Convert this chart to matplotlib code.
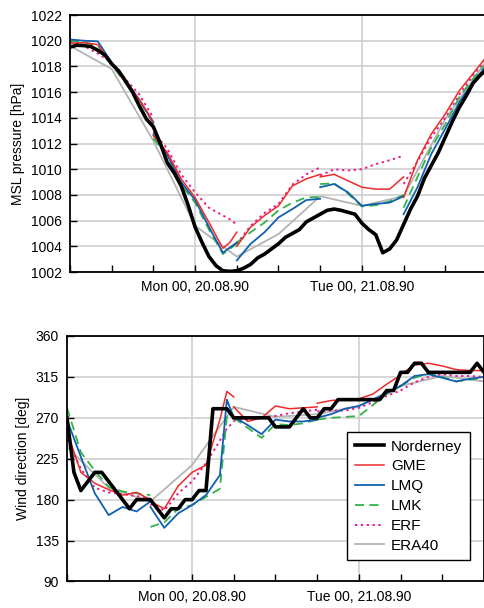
import numpy as np
import matplotlib
matplotlib.use("Agg")
import matplotlib.pyplot as plt
from matplotlib.ticker import MultipleLocator

plt.rcParams['font.family'] = ['Liberation Sans', 'DejaVu Sans']
plt.rcParams['font.size'] = 10

# hours relative to Mon 00, 20.08.90
t_obs = np.arange(-18, 43)
t_era = np.arange(-18, 43, 6)
nan = np.nan
# forecast runs restart at Sun 18, Mon 06, Mon 18, Tue 06
t_mod = [-18, -16, -14, -12, -10, -8, -6, nan,
         -6, -4, -2, 0, 2, 4, 5, 6, nan,
         6, 8, 10, 12, 14, 16, 18, nan,
         18, 20, 22, 24, 26, 28, 30, nan,
         30, 32, 34, 36, 38, 40, 42]

# ---- MSL pressure [hPa]
obs_p = [1019.5, 1019.65, 1019.62, 1019.55, 1019.25, 1018.9, 1018.2, 1017.65, 1016.85, 1016.0,
         1014.9, 1013.9, 1013.3, 1012.0, 1010.5, 1009.7, 1008.7, 1007.2, 1005.5, 1004.3,
         1003.2, 1002.5, 1002.1, 1002.05, 1002.1, 1002.3, 1002.6, 1003.1, 1003.4, 1003.8,
         1004.2, 1004.7, 1005.0, 1005.3, 1005.9, 1006.2, 1006.5, 1006.8, 1006.9, 1006.8,
         1006.65, 1006.5, 1005.8, 1005.3, 1004.9, 1003.5, 1003.8, 1004.5, 1005.7, 1006.9,
         1007.9, 1009.3, 1010.3, 1011.3, 1012.5, 1013.7, 1014.8, 1015.7, 1016.7, 1017.3, 1017.8]
gme_p = [1019.8, 1019.85, 1019.7, 1018.2, 1016.8, 1015.4, 1013.7, nan,
         1012.6, 1011.3, 1009.25, 1007.8, 1005.85, 1003.85, 1004.3, 1005.1, nan,
         1004.0, 1005.5, 1006.4, 1007.15, 1008.7, 1009.25, 1009.6, nan,
         1009.4, 1009.6, 1009.1, 1008.6, 1008.45, 1008.45, 1009.4, nan,
         1007.8, 1010.7, 1012.75, 1014.3, 1016.1, 1017.45, 1018.8]
lmq_p = [1020.1, 1020.0, 1019.95, 1018.3, 1016.9, 1015.4, 1013.6, nan,
         1012.7, 1011.1, 1009.0, 1007.6, 1005.5, 1003.5, 1003.9, 1004.3, nan,
         1002.9, 1004.2, 1005.1, 1006.25, 1006.9, 1007.6, 1007.7, nan,
         1008.6, 1008.85, 1008.2, 1007.15, 1007.3, 1007.4, 1007.9, nan,
         1006.5, 1008.6, 1011.2, 1013.15, 1015.2, 1016.8, 1018.1]
lmk_p = [1020.0, 1019.9, 1019.6, 1018.1, 1016.7, 1015.3, 1013.6, nan,
         1012.4, 1011.0, 1008.8, 1007.4, 1005.3, 1003.4, 1003.8, 1004.2, nan,
         1004.3, 1005.1, 1005.85, 1006.8, 1007.4, 1007.8, 1007.85, nan,
         1008.85, 1008.9, 1008.1, 1007.1, 1007.2, 1007.5, 1008.0, nan,
         1007.0, 1009.4, 1011.7, 1013.5, 1015.6, 1017.05, 1018.3]
erf_p = [1019.9, 1019.6, 1019.0, 1018.3, 1017.0, 1015.8, 1014.0, nan,
         1012.9, 1011.6, 1009.6, 1008.2, 1007.0, 1006.4, 1006.1, 1005.7, nan,
         1004.2, 1005.6, 1006.6, 1007.3, 1008.8, 1009.6, 1010.15, nan,
         1009.5, 1010.0, 1009.9, 1010.0, 1010.4, 1010.7, 1011.05, nan,
         1008.85, 1010.6, 1012.5, 1014.0, 1015.8, 1017.3, 1018.6]
era_p = [1019.6, 1017.8, 1012.2, 1005.6, 1003.2, 1004.95, 1007.9, 1007.15, 1007.9, 1013.9, 1018.5]

# ---- wind direction [deg]
obs_d = [270, 210, 190, 200, 210, 210, 200, 190, 180, 170,
         180, 180, 180, 170, 160, 170, 170, 180, 180, 190,
         190, 280, 280, 280, 270, 270, 270, 270, 270, 270,
         260, 260, 260, 270, 280, 270, 270, 280, 280, 290,
         290, 290, 290, 290, 290, 290, 300, 300, 320, 320,
         330, 330, 320, 320, 320, 320, 320, 320, 320, 330, 320]
gme_d = [255, 210, 198, 191, 185, 188, 180, nan,
         178, 170, 195, 210, 218, 268, 299, 293, nan,
         282, 266, 270, 283, 280, 281, 282, nan,
         286, 289, 290, 291, 296, 307, 317, nan,
         318, 328, 330, 327, 323, 322, 322]
lmq_d = [268, 227, 187, 163, 172, 167, 178, nan,
         172, 149, 165, 174, 185, 207, 290, 270, nan,
         271, 262, 252, 268, 266, 266, 268, nan,
         270, 274, 280, 283, 290, 297, 305, nan,
         305, 316, 318, 314, 310, 313, 315]
lmk_d = [281, 232, 212, 194, 189, 187, 185, nan,
         150, 155, 170, 174, 183, 192, 271, 268, nan,
         270, 259, 248, 263, 262, 264, 268, nan,
         268, 270, 271, 272, 284, 296, 305, nan,
         305, 314, 319, 315, 310, 312, 314]
erf_d = [246, 214, 193, 188, 186, 184, 181, nan,
         175, 168, 187, 200, 220, 245, 258, 266, nan,
         267, 268, 270, 272, 275, 277, 279, nan,
         277, 278, 278, 281, 287, 294, 300, nan,
         300, 309, 315, 318, 316, 316, 315]
era_d = [238, 193, 178, 218, 282, 271, 274, 283, 305, 316, 310]

names = ['Norderney', 'GME', 'LMQ', 'LMK', 'ERF', 'ERA40']
xticklabels = ['Mon 00, 20.08.90', 'Tue 00, 21.08.90']

c_gme = '#ee2a2a'
c_lmq = '#1060b0'
c_lmk = '#33b24a'
c_erf = '#ec1c8c'
c_era = '#b4b4b4'


def draw(ax, obs, gme, lmq, lmk, erf, era):
    h = {}
    h['ERA40'], = ax.plot(t_era, era, color=c_era, lw=1.3)
    h['ERF'], = ax.plot(t_mod, erf, color=c_erf, lw=1.4, dashes=(1.2, 1.8))
    h['LMK'], = ax.plot(t_mod, lmk, color=c_lmk, lw=1.3, dashes=(5, 3))
    h['LMQ'], = ax.plot(t_mod, lmq, color=c_lmq, lw=1.3)
    h['GME'], = ax.plot(t_mod, gme, color=c_gme, lw=1.1)
    h['Norderney'], = ax.plot(t_obs, obs, color='black', lw=2.6)
    ax.set_xlim(-18, 42)
    ax.set_xticks([0, 24])
    ax.set_xticklabels(xticklabels)
    ax.xaxis.set_minor_locator(MultipleLocator(6))
    ax.tick_params(which='both', direction='in', length=5, width=1, pad=6)
    ax.grid(True, which='major', color='#cccccc', lw=1.1)
    ax.set_axisbelow(True)
    for s in ax.spines.values():
        s.set_linewidth(1.3)
    return h


fig = plt.figure(figsize=(4.84, 6.08), dpi=100)
ax1 = fig.add_axes([0.1446, 0.5526, 0.8616, 0.4227])
ax2 = fig.add_axes([0.1384, 0.0436, 0.8616, 0.4038])

draw(ax1, obs_p, gme_p, lmq_p, lmk_p, erf_p, era_p)
ax1.set_ylim(1002, 1022)
ax1.set_yticks(np.arange(1002, 1023, 2))
ax1.set_ylabel('MSL pressure [hPa]')

hd = draw(ax2, obs_d, gme_d, lmq_d, lmk_d, erf_d, era_d)
ax2.set_ylim(90, 360)
ax2.set_yticks(np.arange(90, 361, 45))
ax2.set_ylabel('Wind direction [deg]')

leg = ax2.legend([hd[n] for n in names], names, loc='lower right',
                 bbox_to_anchor=(0.985, 0.055), fancybox=False, framealpha=1,
                 edgecolor='black', handlelength=1.9, labelspacing=0.38,
                 fontsize=11, borderpad=0.5, handletextpad=0.5)
leg.get_frame().set_linewidth(1.0)

fig.savefig('out.png', dpi=100)
